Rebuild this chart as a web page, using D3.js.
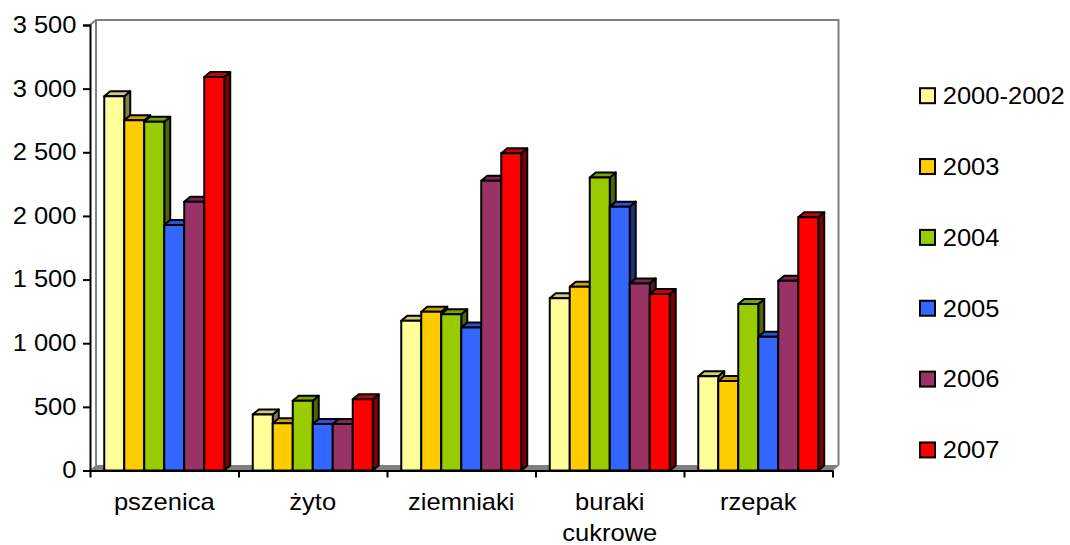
<!DOCTYPE html>
<html>
<head>
<meta charset="utf-8">
<script src="https://cdn.jsdelivr.net/npm/d3@7"></script>
<style>
  body { margin: 0; background: #fff; }
  svg { display: block; font-family: "Liberation Sans", Arial, sans-serif; }
</style>
</head>
<body>
<div id="chart"></div>
<script>
const width = 1070
const height = 545

// data
const categories = ['pszenica', 'żyto', 'ziemniaki', 'buraki cukrowe', 'rzepak']
const seriesNames = ['2000-2002', '2003', '2004', '2005', '2006', '2007']
const seriesColors = ['#FFFF99', '#FFCC00', '#99CC00', '#3366FF', '#993366', '#FF0000']
const v2000_2002 = [2940, 440, 1176, 1354, 740]
const v2003 = [2752, 372, 1248, 1444, 703]
const v2004 = [2740, 548, 1228, 2302, 1308]
const v2005 = [1928, 366, 1123, 2073, 1051]
const v2006 = [2112, 366, 2277, 1470, 1490]
const v2007 = [3091, 559, 2492, 1387, 1990]
const yTicks = [0, 500, 1000, 1500, 2000, 2500, 3000, 3500]

const seriesValues = [v2000_2002, v2003, v2004, v2005, v2006, v2007]

// plot frame
const plotLeft = 90, plotRight = 832.5, plotTop = 25, plotBottom = 470.5
const dx = 6, dy = -5        // 3d depth offset
const fontSize = 23
const stretch = 1.11         // text in the picture is a bit wider than the font

const fmt = d3.formatLocale({decimal: ',', thousands: '\u00a0', grouping: [3], currency: ['', '']}).format(',d')

const svg = d3.select('#chart').append('svg')
    .attr('width', width)
    .attr('height', height)

const y = d3.scaleLinear().domain([0, 3500]).range([plotBottom, plotTop])
const x0 = d3.scaleBand().domain(categories).range([plotLeft, plotRight])
    .paddingInner(0.192).paddingOuter(0.096)
const x1 = d3.scaleBand().domain(seriesNames).range([0, x0.bandwidth()])
const color = d3.scaleOrdinal().domain(seriesNames).range(seriesColors)

// walls and floor
const walls = svg.append('g').attr('fill', 'none').attr('stroke', '#808080').attr('stroke-width', 2)
walls.append('path')
    .attr('d', `M${plotLeft},${plotTop} L${plotLeft + dx},${plotTop + dy} L${plotRight + dx},${plotTop + dy} L${plotRight + dx},${plotBottom + dy}`)
walls.append('path')
    .attr('d', `M${plotLeft + dx},${plotTop + dy} L${plotLeft + dx},${plotBottom + dy}`)
svg.append('path')
    .attr('d', `M${plotLeft},${plotBottom} L${plotLeft + dx},${plotBottom + dy} L${plotRight + dx},${plotBottom + dy} L${plotRight},${plotBottom} Z`)
    .attr('fill', '#808080')
    .attr('stroke', '#808080')
    .attr('stroke-width', 1)

// bars
const bars = []
seriesNames.forEach((s, si) => {
    categories.forEach((c, ci) => {
        bars.push({cat: c, series: s, value: seriesValues[si][ci]})
    })
})
// draw left to right so the next front face hides the previous side
bars.sort((a, b) => (x0(a.cat) + x1(a.series)) - (x0(b.cat) + x1(b.series)))

const bw = x1.bandwidth()
const barG = svg.append('g')
    .attr('stroke', '#000')
    .attr('stroke-width', 2)
    .attr('stroke-linejoin', 'round')

barG.selectAll('g.bar')
    .data(bars)
    .join('g')
    .attr('class', 'bar')
    .each(function (d) {
        const g = d3.select(this)
        const bx = x0(d.cat) + x1(d.series)
        const by = y(d.value)
        const base = d3.rgb(color(d.series))
        g.append('path')   // side
            .attr('d', `M${bx + bw},${by} L${bx + bw + dx},${by + dy} L${bx + bw + dx},${plotBottom + dy} L${bx + bw},${plotBottom} Z`)
            .attr('fill', d3.rgb(base.r * 0.5, base.g * 0.5, base.b * 0.5))
        g.append('path')   // top
            .attr('d', `M${bx},${by} L${bx + dx},${by + dy} L${bx + bw + dx},${by + dy} L${bx + bw},${by} Z`)
            .attr('fill', d3.rgb(base.r * 0.8, base.g * 0.8, base.b * 0.8))
        g.append('rect')   // front
            .attr('x', bx)
            .attr('y', by)
            .attr('width', bw)
            .attr('height', plotBottom - by)
            .attr('fill', base)
    })

// y axis
const yAxis = svg.append('g')
    .attr('transform', `translate(${plotLeft},0)`)
    .call(d3.axisLeft(y).tickValues(yTicks).tickFormat(fmt).tickSize(7).tickPadding(6.5))
yAxis.select('.domain').attr('stroke', '#000').attr('stroke-width', 2)
yAxis.selectAll('.tick line').attr('stroke', '#000').attr('stroke-width', 2)
yAxis.selectAll('.tick text')
    .attr('font-size', fontSize)
    .attr('font-family', '"Liberation Sans", Arial, sans-serif')
    .attr('fill', '#000')
    .attr('x', -13.5 / stretch)
    .attr('transform', `scale(${stretch},1)`)

// x axis: boundary ticks
const xEdge = d3.scaleLinear().domain([0, categories.length]).range([plotLeft, plotRight])
const xAxis = svg.append('g')
    .attr('transform', `translate(0,${plotBottom})`)
    .call(d3.axisBottom(xEdge).ticks(categories.length).tickFormat('').tickSize(7).tickSizeOuter(0))
xAxis.select('.domain').attr('stroke', '#000').attr('stroke-width', 2)
xAxis.selectAll('.tick line').attr('stroke', '#000').attr('stroke-width', 2)

// x axis: category labels
const xLab = svg.append('g')
    .attr('transform', `translate(0,${plotBottom})`)
    .call(d3.axisBottom(x0).tickSize(0).tickFormat(''))
xLab.select('.domain').remove()
xLab.selectAll('.tick').each(function (d) {
    const t = d3.select(this).append('text')
        .attr('fill', '#000')
        .attr('font-size', fontSize)
        .attr('font-family', '"Liberation Sans", Arial, sans-serif')
        .attr('text-anchor', 'middle')
        .attr('transform', `scale(${stretch},1)`)
    d.split(' ').forEach((w, i) => {
        t.append('tspan').attr('x', 0).attr('y', 40 + i * 31).text(w)
    })
})

// legend
const legend = svg.append('g')
    .selectAll('g')
    .data(seriesNames)
    .join('g')
    .attr('transform', (d, i) => `translate(920,${95.7 + i * 70.85})`)
legend.append('rect')
    .attr('x', 0).attr('y', -7.5)
    .attr('width', 15).attr('height', 15)
    .attr('fill', d => color(d))
    .attr('stroke', '#000')
    .attr('stroke-width', 2)
legend.append('text')
    .attr('x', 22.7 / stretch)
    .attr('y', 8.3)
    .attr('transform', `scale(${stretch},1)`)
    .attr('font-size', fontSize)
    .attr('fill', '#000')
    .text(d => d)
</script>
</body>
</html>
